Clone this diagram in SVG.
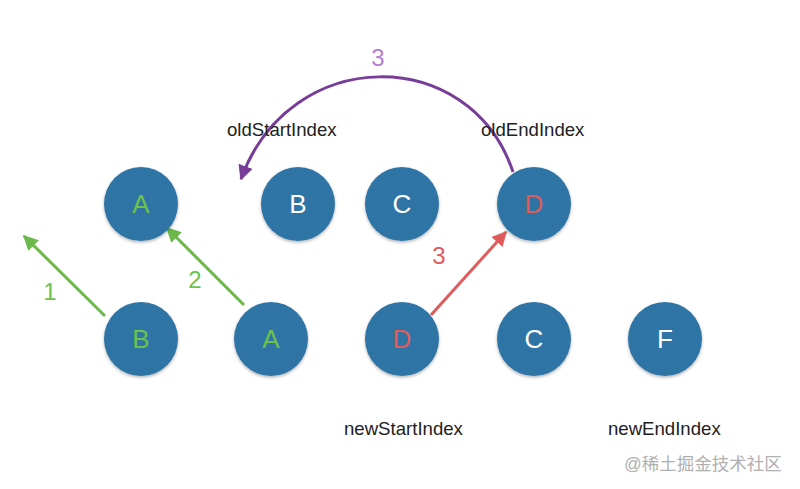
<svg xmlns="http://www.w3.org/2000/svg" width="800" height="489" viewBox="0 0 800 489">
<style>
.node{fill:#2f74a6;filter:url(#sh)}
.lt{font-family:"Liberation Sans",Arial,sans-serif;font-size:26px;text-anchor:middle;dominant-baseline:central}
.lbl{font-family:"Liberation Sans",Arial,sans-serif;font-size:18.6px;fill:#222}
.w{fill:#ffffff}.g{fill:#6cc24a}.r{fill:#e05b5b}
</style>
<defs>
<filter id="sh" x="-20%" y="-20%" width="140%" height="140%"><feDropShadow dx="0" dy="1.5" stdDeviation="1.5" flood-color="#000" flood-opacity="0.3"/></filter>
<marker id="ag" viewBox="0 0 10 10" refX="9" refY="5" markerWidth="5" markerHeight="5" orient="auto" markerUnits="strokeWidth"><path d="M0,0L10,5L0,10z" fill="#6cb84a"/></marker>
<marker id="ar" viewBox="0 0 10 10" refX="9" refY="5" markerWidth="5" markerHeight="5" orient="auto" markerUnits="strokeWidth"><path d="M0,0L10,5L0,10z" fill="#e05b5b"/></marker>
<marker id="ap" viewBox="0 0 10 10" refX="9" refY="5" markerWidth="5" markerHeight="5" orient="auto" markerUnits="strokeWidth"><path d="M0,0L10,5L0,10z" fill="#773d98"/></marker>
</defs>
<rect width="800" height="489" fill="#fff"/>
<g id="connectors" fill="none" stroke-width="3">
<line x1="105" y1="316" x2="24" y2="236" stroke="#6cb84a" marker-end="url(#ag)"/>
<line x1="244" y1="305" x2="167" y2="228" stroke="#6cb84a" marker-end="url(#ag)"/>
<line x1="431" y1="315" x2="506" y2="232" stroke="#e05b5b" marker-end="url(#ar)"/>
<path d="M513,172 C470,44 290,44 241,179" stroke="#773d98" marker-end="url(#ap)"/>
</g>
<g id="edge-labels" font-family="'Liberation Sans',Arial,sans-serif" font-size="24" text-anchor="middle">
<text x="50" y="300" fill="#6cc24a">1</text>
<text x="195" y="288" fill="#6cc24a">2</text>
<text x="439" y="264" fill="#e05b5b">3</text>
<text x="378" y="66" fill="#b57fd0">3</text>
</g>
<g id="n-top-A"><circle class="node" cx="141" cy="204" r="37"/><text class="lt g" x="141" y="204">A</text></g>
<g id="n-top-B"><circle class="node" cx="298" cy="204" r="37"/><text class="lt w" x="298" y="204">B</text></g>
<g id="n-top-C"><circle class="node" cx="402" cy="204" r="37"/><text class="lt w" x="402" y="204">C</text></g>
<g id="n-top-D"><circle class="node" cx="534" cy="204" r="37"/><text class="lt r" x="534" y="204">D</text></g>
<g id="n-bot-B"><circle class="node" cx="141" cy="339" r="37"/><text class="lt g" x="141" y="339">B</text></g>
<g id="n-bot-A"><circle class="node" cx="271" cy="339" r="37"/><text class="lt g" x="271" y="339">A</text></g>
<g id="n-bot-D"><circle class="node" cx="402" cy="339" r="37"/><text class="lt r" x="402" y="339">D</text></g>
<g id="n-bot-C"><circle class="node" cx="534" cy="339" r="37"/><text class="lt w" x="534" y="339">C</text></g>
<g id="n-bot-F"><circle class="node" cx="665" cy="339" r="37"/><text class="lt w" x="665" y="339">F</text></g>
<g id="labels">
<text class="lbl" x="227" y="135.5">oldStartIndex</text>
<text class="lbl" x="481" y="135.5">oldEndIndex</text>
<text class="lbl" x="344" y="434.5">newStartIndex</text>
<text class="lbl" x="608" y="434.5">newEndIndex</text>
</g>
<text x="624" y="470" font-family="'Liberation Sans','Noto Sans CJK SC',sans-serif" font-size="17.5" fill="#b0b0b0">@稀土掘金技术社区</text>
</svg>
